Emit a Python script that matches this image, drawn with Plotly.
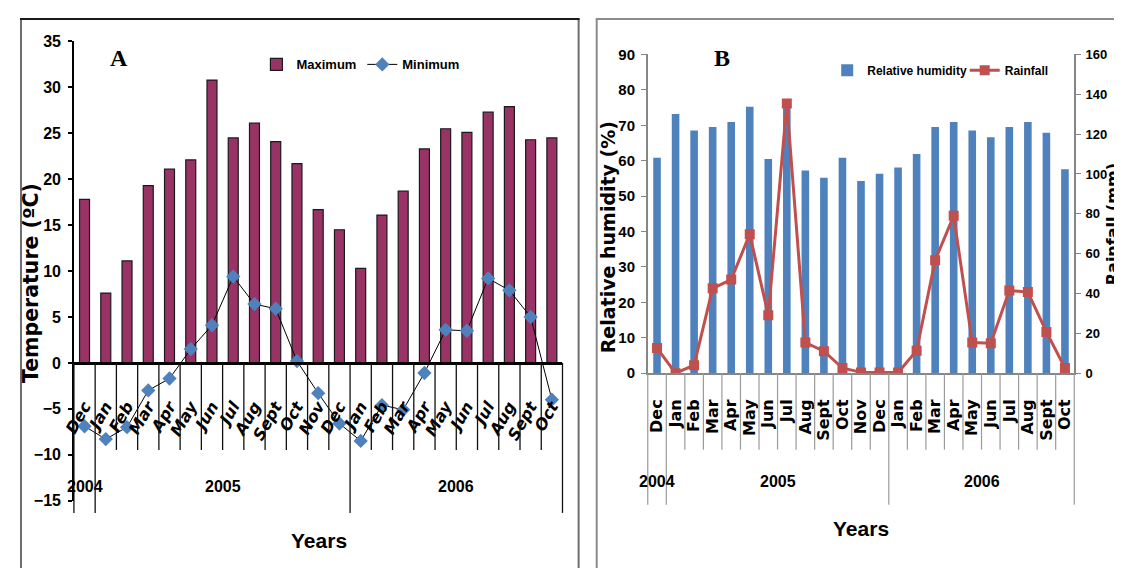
import plotly.graph_objects as go

# ---------------- data ----------------
months = ["Dec", "Jan", "Feb", "Mar", "Apr", "May", "Jun", "Jul", "Aug", "Sept", "Oct", "Nov",
          "Dec", "Jan", "Feb", "Mar", "Apr", "May", "Jun", "Jul", "Aug", "Sept", "Oct"]
years = ["2004",
         "2005", "2005", "2005", "2005", "2005", "2005", "2005", "2005", "2005", "2005", "2005", "2005",
         "2006", "2006", "2006", "2006", "2006", "2006", "2006", "2006", "2006", "2006"]
temp_max = [17.8, 7.6, 11.1, 19.3, 21.1, 22.1, 30.8, 24.5, 26.1, 24.1, 21.7, 16.7,
            14.5, 10.3, 16.1, 18.7, 23.3, 25.5, 25.1, 27.3, 27.9, 24.3, 24.5]
temp_min = [-6.9, -8.3, -7.0, -3.0, -1.7, 1.5, 4.1, 9.4, 6.4, 5.9, 0.2, -3.3,
            -6.6, -8.5, -4.6, -5.1, -1.1, 3.6, 3.5, 9.2, 7.9, 5.0, -4.0]
rel_humidity = [60.8, 73.2, 68.5, 69.5, 70.9, 75.2, 60.5, 76.0, 57.2, 55.2, 60.8, 54.3,
                56.3, 58.1, 61.9, 69.5, 70.9, 68.5, 66.6, 69.5, 70.9, 67.9, 57.6]
rainfall = [12.6, 0.0, 4.0, 42.6, 47.0, 69.8, 29.1, 135.4, 15.4, 11.0, 2.6, 0.4,
            0.3, 0.3, 11.3, 56.7, 79.0, 15.4, 15.0, 41.5, 40.7, 20.7, 2.6]

# ---------------- geometry helpers ----------------
# the page body keeps an 8px margin, so the figure is placed at (8, 8)
OFF = 8
W, H = 1122 - OFF, 576 - 2 * OFF
def px(x): return (x - OFF) / W
def py(y): return 1 - (y - OFF) / H

A_xdom = [px(62.5), px(556.4)]
A_ydom = [py(507.7), py(33.3)]
B_xdom = [px(642.6), px(1073.7)]
B_ydom = [py(376.0), py(46.7)]
A_range = [-15, 35]
B_range = [0, 90]
R_range = [0, 160]

idx = list(range(len(months)))
n = len(months)

NARROW = "Liberation Sans Narrow, Arial Narrow, Liberation Sans, Arial, sans-serif"
WIDE = "DejaVu Sans, Arial, sans-serif"
SERIF = "Liberation Serif, Times New Roman, serif"

fig = go.Figure()
fig.add_trace(go.Bar(x=idx, y=temp_max, name="Maximum", width=0.47,
                     marker=dict(color="#993366", line=dict(color="#1a1a1a", width=1.2)),
                     xaxis="x", yaxis="y", legend="legend"))
fig.add_trace(go.Scatter(x=idx, y=temp_min, name="Minimum", mode="lines+markers",
                         line=dict(color="black", width=1),
                         marker=dict(symbol="diamond", size=11, color="#4F81BD"),
                         xaxis="x", yaxis="y", legend="legend3"))
fig.add_trace(go.Bar(x=idx, y=rel_humidity, name="Relative humidity", width=0.41,
                     marker=dict(color="#4F81BD", line=dict(width=0)),
                     xaxis="x2", yaxis="y2", legend="legend2"))
fig.add_trace(go.Scatter(x=idx, y=rainfall, name="Rainfall", mode="lines+markers",
                         line=dict(color="#C0504D", width=3),
                         marker=dict(symbol="square", size=10, color="#C0504D"),
                         xaxis="x2", yaxis="y3", legend="legend4"))

a_axis_pos = A_ydom[0] + (0 - A_range[0]) / (A_range[1] - A_range[0]) * (A_ydom[1] - A_ydom[0])

def leg(xtext, ymid, size):
    return dict(x=px(xtext - 42), y=py(ymid), xanchor="left", yanchor="middle", orientation="h",
                bgcolor="rgba(0,0,0,0)",
                font=dict(family=NARROW, size=size, color="black", weight="bold"))

fig.update_layout(
    width=W, height=H, autosize=False,
    margin=dict(l=0, r=0, t=0, b=0),
    paper_bgcolor="white", plot_bgcolor="rgba(0,0,0,0)",
    showlegend=True,
    xaxis=dict(domain=A_xdom, range=[-0.5, n - 0.5], anchor="free", position=a_axis_pos,
               tickmode="array", tickvals=idx, ticktext=months, tickangle=-60,
               ticks="outside", ticklen=26, tickcolor="rgba(0,0,0,0)",
               showline=True, linecolor="black", linewidth=2.5,
               showgrid=False, zeroline=False,
               tickfont=dict(family=WIDE, size=16, color="black", weight="bold", style="italic")),
    yaxis=dict(domain=A_ydom, range=A_range, dtick=5, anchor="x",
               ticks="outside", ticklen=4, tickwidth=1.5, tickcolor="black", ticklabelstandoff=4,
               showline=True, linecolor="black", linewidth=1.5,
               showgrid=False, zeroline=False,
               tickfont=dict(family=NARROW, size=16, color="black", weight="bold")),
    yaxis4=dict(domain=A_ydom, range=A_range, dtick=5, anchor="x", overlaying="y",
                ticks="inside", ticklen=4, tickwidth=1.5, tickcolor="black",
                showticklabels=False, showline=False, showgrid=False, zeroline=False),
    xaxis2=dict(domain=B_xdom, range=[-0.5, n - 0.5], anchor="y2",
                tickmode="array", tickvals=idx, ticktext=months, tickangle=-90,
                ticks="outside", ticklen=18, tickcolor="rgba(0,0,0,0)",
                showline=True, linecolor="#868686", linewidth=1.5,
                showgrid=False, zeroline=False,
                tickfont=dict(family=WIDE, size=16, color="black", weight="bold")),
    yaxis2=dict(domain=B_ydom, range=B_range, dtick=10, anchor="x2",
                ticks="outside", ticklen=5, tickcolor="#868686", ticklabelstandoff=3,
                showline=True, linecolor="#868686", linewidth=1.5,
                showgrid=False, zeroline=False,
                tickfont=dict(family=NARROW, size=15, color="black", weight="bold")),
    yaxis3=dict(domain=B_ydom, range=R_range, dtick=20, anchor="x2", overlaying="y2", side="right",
                ticks="outside", ticklen=5, tickcolor="#868686", ticklabelstandoff=2,
                showline=True, linecolor="#868686", linewidth=1.5,
                showgrid=False, zeroline=False,
                tickfont=dict(family=NARROW, size=13, color="black", weight="bold")),
    legend=leg(289, 57, 13),
    legend3=leg(396, 57, 13),
    legend2=leg(866, 63, 12),
    legend4=leg(1005, 63, 12),
)

shapes = []
def frac(v, rng):
    return (v - rng[0]) / (rng[1] - rng[0])

def year_boundaries():
    b = {0, n}
    for i in range(1, n):
        if years[i] != years[i - 1]:
            b.add(i)
    return b

yb = year_boundaries()
A_dom_px = 474.4
B_dom_px = 329.3
for i in range(n + 1):
    long_ = i in yb
    y0 = frac(0, A_range)
    y1 = frac(0, A_range) - ((520 - 365) if long_ else (455 - 365)) / A_dom_px
    shapes.append(dict(type="line", xref="x domain", yref="y domain", x0=i / n, x1=i / n,
                       y0=y0, y1=y1, line=dict(color="#111111", width=1.3)))
    y1b = -((512 - 376) if long_ else (455 - 376)) / B_dom_px
    shapes.append(dict(type="line", xref="x2 domain", yref="y2 domain", x0=i / n, x1=i / n,
                       y0=0, y1=y1b, line=dict(color="#9a9a9a", width=1.2)))

# panel frames
shapes.append(dict(type="line", xref="paper", yref="paper", x0=px(9), x1=px(9), y0=-0.05, y1=py(10),
                   line=dict(color="#6e6e6e", width=2)))
shapes.append(dict(type="line", xref="paper", yref="paper", x0=px(572.7), x1=px(572.7), y0=-0.05, y1=py(10),
                   line=dict(color="#6e6e6e", width=2)))
shapes.append(dict(type="line", xref="paper", yref="paper", x0=px(8), x1=px(573.7), y0=py(10), y1=py(10),
                   line=dict(color="#1a1a1a", width=2)))
shapes.append(dict(type="line", xref="paper", yref="paper", x0=px(591), x1=px(591), y0=-0.05, y1=py(10),
                   line=dict(color="#8c8c8c", width=2)))
shapes.append(dict(type="line", xref="paper", yref="paper", x0=px(590), x1=1.05, y0=py(10), y1=py(10),
                   line=dict(color="#8c8c8c", width=2)))
fig.update_layout(shapes=shapes)

ann = []
groups = []
for y in years:
    if not groups or groups[-1][0] != y:
        groups.append([y, []])
for i, y in enumerate(years):
    for g in groups:
        if g[0] == y:
            g[1].append(i)
for label, members in groups:
    cx = sum(members) / len(members)
    ann.append(dict(text=label, x=cx, xref="x", y=py(493), yref="paper", showarrow=False,
                    xanchor="center", yanchor="middle",
                    font=dict(family=NARROW, size=16, color="black", weight="bold")))
    ann.append(dict(text=label, x=cx, xref="x2", y=py(488), yref="paper", showarrow=False,
                    xanchor="center", yanchor="middle",
                    font=dict(family=NARROW, size=16, color="black", weight="bold")))

def txt(t, x, y, fam, size, angle=0):
    return dict(text=t, x=px(x), y=py(y), xref="paper", yref="paper", showarrow=False,
                xanchor="center", yanchor="middle", textangle=angle,
                font=dict(family=fam, size=size, color="black", weight="bold"))

ann += [
    txt("A", 108, 50, SERIF, 24),
    txt("B", 718, 50, SERIF, 24),
    txt("Temperature (ºC)", 19, 283, WIDE, 20.5, -90),
    txt("Relative humidity (%)", 602, 236, WIDE, 19, -90),
    txt("Rainfall (mm)", 1112, 222, WIDE, 16, -90),
    txt("Years", 310, 549, NARROW, 21),
    txt("Years", 858, 536, NARROW, 21),
]
fig.update_layout(annotations=ann)

fig.write_html("out.html", default_width="%dpx" % W, default_height="%dpx" % H,
               config={"displayModeBar": False, "responsive": False})
